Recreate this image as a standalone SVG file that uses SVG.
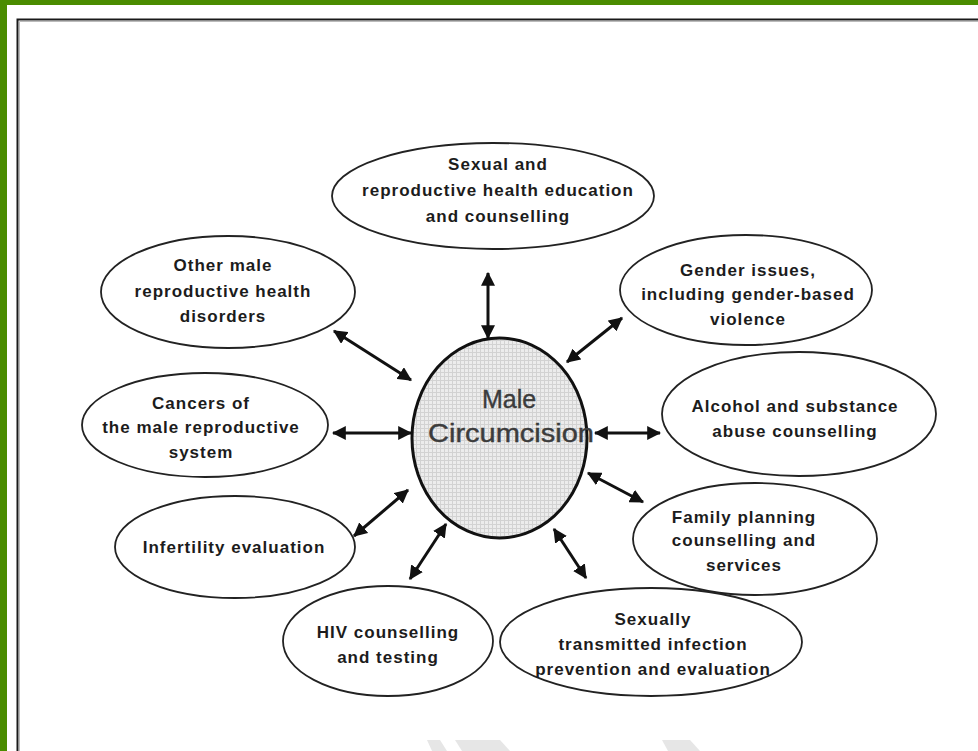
<svg xmlns="http://www.w3.org/2000/svg" width="978" height="751" viewBox="0 0 978 751">
  <defs>
    <style>
      .node ellipse { fill: #ffffff; stroke: #222222; stroke-width: 1.8; }
      .lbl { font-family: "Liberation Sans", Arial, sans-serif; font-weight: bold; font-size: 17px; fill: #1c1c1c; text-anchor: middle; letter-spacing: 1px; }
      .center-lbl { font-family: "Liberation Sans", Arial, sans-serif; font-size: 25px; fill: #3c3c3c; stroke: #3c3c3c; stroke-width: 0.4; }
      .conn line { stroke: #111111; stroke-width: 3; }
    </style>
    <pattern id="grid" width="4" height="4" patternUnits="userSpaceOnUse">
      <rect width="4" height="4" fill="#ececec"/>
      <path d="M0,0.5 H4 M0.5,0 V4" stroke="#d2d2d2" stroke-width="1"/>
    </pattern>
    <marker id="ah" viewBox="0 0 12 12" refX="11" refY="6" markerWidth="14" markerHeight="14" markerUnits="userSpaceOnUse" orient="auto-start-reverse">
      <path d="M0,0 L12,6 L0,12 z" fill="#111111"/>
    </marker>
  </defs>

  <!-- background and frame -->
  <rect x="0" y="0" width="978" height="751" fill="#ffffff"/>
  <rect x="0" y="0" width="978" height="5" fill="#4a8c00"/>
  <rect x="0" y="0" width="7" height="751" fill="#4a8c00"/>
  <path d="M17.5,751 V19.5 H978" fill="none" stroke="#1a1a1a" stroke-width="2"/>
  <path d="M19.5,751 V21.5 H978" fill="none" stroke="#bbbbbb" stroke-width="1"/>

  <!-- faint watermark fragments -->
  <g fill="#e6e6e6">
    <polygon points="427,740 440,740 447,751 432,751"/>
    <polygon points="455,740 500,740 510,751 462,751"/>
    <polygon points="662,740 690,740 700,751 668,751"/>
  </g>

  <!-- connectors -->
  <g id="connectors" class="conn">
    <line x1="488" y1="273" x2="488" y2="338" marker-start="url(#ah)" marker-end="url(#ah)"/>
    <line x1="334" y1="331" x2="411" y2="380" marker-start="url(#ah)" marker-end="url(#ah)"/>
    <line x1="333" y1="433" x2="411" y2="433" marker-start="url(#ah)" marker-end="url(#ah)"/>
    <line x1="408" y1="490" x2="354" y2="536" marker-start="url(#ah)" marker-end="url(#ah)"/>
    <line x1="446" y1="524" x2="410" y2="579" marker-start="url(#ah)" marker-end="url(#ah)"/>
    <line x1="554" y1="529" x2="586" y2="578" marker-start="url(#ah)" marker-end="url(#ah)"/>
    <line x1="588" y1="473" x2="643" y2="502" marker-start="url(#ah)" marker-end="url(#ah)"/>
    <line x1="595" y1="433" x2="660" y2="433" marker-start="url(#ah)" marker-end="url(#ah)"/>
    <line x1="567" y1="362" x2="622" y2="318" marker-start="url(#ah)" marker-end="url(#ah)"/>
  </g>

  <!-- center node -->
  <g id="node-center">
    <ellipse cx="499.5" cy="438" rx="87.5" ry="100" fill="url(#grid)" stroke="#111111" stroke-width="3"/>
    <text class="center-lbl" x="509" y="408" text-anchor="middle">Male</text>
    <text class="center-lbl" x="428" y="442" textLength="166" lengthAdjust="spacingAndGlyphs">Circumcision</text>
  </g>

  <g id="node-srh" class="node">
    <ellipse cx="493" cy="196" rx="161" ry="53"/>
    <text class="lbl" x="498" y="170">Sexual and</text>
    <text class="lbl" x="498" y="196">reproductive health education</text>
    <text class="lbl" x="498" y="222">and counselling</text>
  </g>

  <g id="node-other" class="node">
    <ellipse cx="228" cy="292" rx="127" ry="56"/>
    <text class="lbl" x="223" y="271">Other male</text>
    <text class="lbl" x="223" y="297">reproductive health</text>
    <text class="lbl" x="223" y="322">disorders</text>
  </g>

  <g id="node-gender" class="node">
    <ellipse cx="746" cy="290" rx="126" ry="55"/>
    <text class="lbl" x="748" y="276">Gender issues,</text>
    <text class="lbl" x="748" y="300">including gender-based</text>
    <text class="lbl" x="748" y="325">violence</text>
  </g>

  <g id="node-alcohol" class="node">
    <ellipse cx="799" cy="414" rx="137" ry="62"/>
    <text class="lbl" x="795" y="412">Alcohol and substance</text>
    <text class="lbl" x="795" y="437">abuse counselling</text>
  </g>

  <g id="node-family" class="node">
    <ellipse cx="755" cy="539" rx="122" ry="56"/>
    <text class="lbl" x="744" y="523">Family planning</text>
    <text class="lbl" x="744" y="546">counselling and</text>
    <text class="lbl" x="744" y="571">services</text>
  </g>

  <g id="node-sti" class="node">
    <ellipse cx="651" cy="642" rx="151" ry="54"/>
    <text class="lbl" x="653" y="625">Sexually</text>
    <text class="lbl" x="653" y="650">transmitted infection</text>
    <text class="lbl" x="653" y="675">prevention and evaluation</text>
  </g>

  <g id="node-hiv" class="node">
    <ellipse cx="388" cy="641" rx="105" ry="55"/>
    <text class="lbl" x="388" y="638">HIV counselling</text>
    <text class="lbl" x="388" y="663">and testing</text>
  </g>

  <g id="node-infertility" class="node">
    <ellipse cx="235" cy="547" rx="120" ry="51"/>
    <text class="lbl" x="234" y="553">Infertility evaluation</text>
  </g>

  <g id="node-cancer" class="node">
    <ellipse cx="205" cy="425" rx="123" ry="52"/>
    <text class="lbl" x="201" y="409">Cancers of</text>
    <text class="lbl" x="201" y="433">the male reproductive</text>
    <text class="lbl" x="201" y="458">system</text>
  </g>
</svg>
